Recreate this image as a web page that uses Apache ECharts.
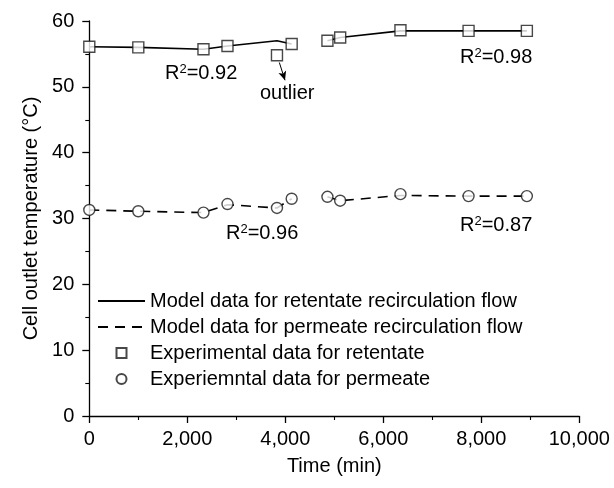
<!DOCTYPE html>
<html><head><meta charset="utf-8">
<script src="https://cdn.jsdelivr.net/npm/echarts@6/dist/echarts.min.js"></script>
<style>html,body{margin:0;padding:0;background:#fff}#c{width:614px;height:488px}</style>
</head><body><div id="c"></div>
<script>
const times = [0, 1000, 2330, 2820, 3830, 4130, 4860, 5120, 6350, 7740, 8930];
const retentateExp = [56.1, 56.0, 55.7, 56.2, 54.8, 56.5, 57.0, 57.5, 58.6, 58.5, 58.5];
const permeateExp  = [31.3, 31.1, 30.9, 32.2, 31.6, 33.0, 33.3, 32.7, 33.7, 33.4, 33.4];
const retentateModel = [56.1, 56.0, 55.7, 56.2, 57.0, 56.5, 57.0, 57.5, 58.5, 58.5, 58.5];
const permeateModel  = [31.3, 31.1, 30.9, 32.1, 31.6, 33.0, 33.3, 32.7, 33.5, 33.4, 33.4];
const breakAfter = 5; // model curves are interrupted between these runs
const xTicks = [0, 2000, 4000, 6000, 8000, 10000];
const yTicks = [0, 10, 20, 30, 40, 50, 60];
const seriesNames = [
  'Model data for retentate recirculation flow',
  'Model data for permeate recirculation flow',
  'Experimental data for retentate',
  'Experiemntal data for permeate'
];
const annotations = [
  {text: '0.92', x: 165, y: 73},
  {text: '0.98', x: 460, y: 57},
  {text: '0.96', x: 226, y: 233},
  {text: '0.87', x: 460, y: 225}
];
const FONT = '"Liberation Sans", Arial, sans-serif';

function pairs(ys, withBreak) {
  const out = [];
  times.forEach((t, i) => {
    out.push([t, ys[i]]);
    if (withBreak && i === breakAfter) out.push([(t + times[i + 1]) / 2, '-']);
  });
  return out;
}
function commas(v) { return String(v).replace(/\B(?=(\d{3})+(?!\d))/g, ','); }

const chart = echarts.init(document.getElementById('c'), null, {renderer: 'canvas'});
const axisCommon = {
  axisLine: {show: true, lineStyle: {color: '#000', width: 1.3}},
  axisTick: {show: true, inside: false, length: 7, lineStyle: {color: '#000', width: 1.3}},
  minorTick: {show: true, splitNumber: 2, length: 4, lineStyle: {color: '#000', width: 1.1}},
  splitLine: {show: false},
  nameTextStyle: {color: '#000', fontSize: 20, fontFamily: FONT},
};
const markerStyle = {color: '#fff', borderColor: '#1a1a1a', borderWidth: 1.4};
const hidden = {color: 'rgba(0,0,0,0)', borderColor: 'rgba(0,0,0,0)', borderWidth: 0};
chart.setOption({
  animation: false,
  backgroundColor: '#fff',
  grid: {left: 89.3, right: 34.7, top: 21, bottom: 72, containLabel: false},
  xAxis: Object.assign({}, axisCommon, {
    type: 'value', min: xTicks[0], max: xTicks[xTicks.length - 1], interval: 2000,
    name: 'Time (min)', nameLocation: 'middle', nameGap: 40,
    axisLabel: {color: '#000', fontSize: 20, fontFamily: FONT, margin: 13, formatter: v => commas(v)}
  }),
  yAxis: Object.assign({}, axisCommon, {
    type: 'value', min: yTicks[0], max: yTicks[yTicks.length - 1], interval: 10,
    name: 'Cell outlet temperature (°C)', nameLocation: 'middle', nameGap: 48,
    axisLabel: {color: '#000', fontSize: 20, fontFamily: FONT, margin: 15}
  }),
  legend: {
    orient: 'vertical', left: 97, top: 291, padding: 0, itemWidth: 47, itemHeight: 10, itemGap: 6,
    textStyle: {color: '#000', fontSize: 20, fontFamily: FONT},
    data: [
      {name: seriesNames[0], itemStyle: hidden},
      {name: seriesNames[1], itemStyle: hidden},
      {name: seriesNames[2], icon: 'path://M0,0H10V10H0Z'},
      {name: seriesNames[3], icon: 'circle'}
    ]
  },
  series: [
    {name: seriesNames[0], type: 'line', symbol: 'none',
     data: pairs(retentateModel, true), connectNulls: false,
     lineStyle: {color: '#000', width: 1.6, type: 'solid'}, itemStyle: {color: '#000'},
     z: 2},
    {name: seriesNames[1], type: 'line', symbol: 'none',
     data: pairs(permeateModel, true), connectNulls: false,
     lineStyle: {color: '#000', width: 1.6, type: [10, 7]}, itemStyle: {color: '#000'},
     z: 2,
     markLine: {silent: true, symbol: ['none', 'arrow'], symbolSize: [6, 9],
       lineStyle: {color: '#000', width: 1, type: 'solid'}, label: {show: false},
       data: [[{coord: [3878, 53.7]}, {coord: [3994, 51.0]}]]}},
    {name: seriesNames[2], type: 'scatter', symbol: 'rect', symbolSize: 11,
     data: pairs(retentateExp, false), itemStyle: markerStyle, z: 3},
    {name: seriesNames[3], type: 'scatter', symbol: 'circle', symbolSize: 11,
     data: pairs(permeateExp, false), itemStyle: markerStyle, z: 3}
  ],
  graphic: annotations.map(a => ({
    type: 'text', left: a.x, top: a.y - 10,
    style: {
      text: '{m|R}{s|2}{m|=' + a.text + '}', fill: '#000',
      rich: {
        m: {fontSize: 20, fontFamily: FONT, lineHeight: 20, verticalAlign: 'bottom'},
        s: {fontSize: 13, fontFamily: FONT, lineHeight: 13, verticalAlign: 'top'}
      }
    }
  })).concat([{
    type: 'text', left: 260, top: 83,
    style: {text: 'outlier', fill: '#000', font: '20px ' + FONT}
  }])
});
</script></body></html>
